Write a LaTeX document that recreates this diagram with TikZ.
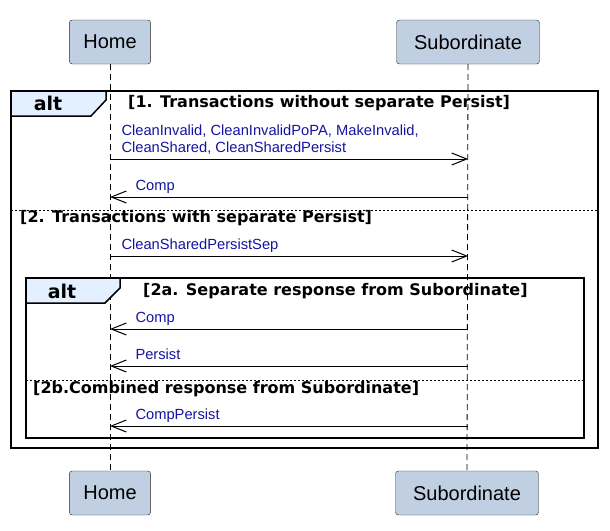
\documentclass[tikz,border=0pt]{standalone}
\usepackage{fontspec}
\setmainfont{Liberation Sans}
\newfontfamily\guardfont{DejaVu Sans}
\usetikzlibrary{arrows.meta}
\definecolor{PartFill}{HTML}{C0D0E2}
\definecolor{TabFill}{HTML}{E3F0FF}
\definecolor{MsgBlue}{HTML}{1414A0}
\newcommand{\drawpart}{\node[part]}
\newcommand{\drawguard}{\node[grd]}

\begin{document}
\begin{tikzpicture}[x=1pt, y=-1pt, >={Straight Barb[length=15pt,width=12pt]},
  part/.style={draw=black!85, fill=PartFill, rounded corners=3pt, minimum height=44pt, inner xsep=14pt, font=\fontsize{20}{24}\selectfont},
  life/.style={dash pattern=on 6pt off 4pt, line width=0.8pt},
  frame/.style={draw, line width=1.5pt},
  tab/.style={draw, fill=TabFill, line width=1.5pt},
  sep/.style={dash pattern=on 2pt off 2pt, line width=1pt},
  msg/.style={->, line width=1pt},
  lbl/.style={text=MsgBlue, inner sep=0pt, anchor=base west, align=left, font=\fontsize{14.7}{17}\selectfont},
  grd/.style={inner sep=0pt, anchor=west, font=\guardfont\bfseries\fontsize{16}{19}\selectfont},
  alt/.style={inner sep=0pt, font=\guardfont\bfseries\fontsize{19}{22}\selectfont}]
\useasboundingbox (0,0) rectangle (610,530);
%participants and lifelines
\drawpart (home) at (110,42) {Home};
\drawpart[minimum width=143pt] (sub) at (468,42) {Subordinate};
\drawpart (homeB) at (110,493) {Home};
\drawpart[minimum width=143pt] (subB) at (467,493) {Subordinate};
\draw[life] (home.south) -- (homeB.north);
\draw[life] (sub.south) -- (subB.north);

%outer alt
\draw[frame] (11,91) rectangle (598,448);
\draw[tab] (11,91) -- (106,91) -- (106,100) -- (91,116) -- (11,116) -- cycle;
\node[alt] (alt1) at (48,103) {alt};
\drawguard (g1) at (128,103) {[1. Transactions without separate Persist]};
\draw[sep] (11,210) -- (598,210);
\drawguard (g2) at (20,218) {[2. Transactions with separate Persist]};

%inner alt
\draw[frame] (26,278) rectangle (584,438);
\draw[tab] (26,278) -- (120,278) -- (120,288) -- (105,303) -- (26,303) -- cycle;
\node[alt] (alt2) at (62,291) {alt};
\drawguard (g2a) at (143,291) {[2a. Separate response from Subordinate]};
\draw[sep] (26,380) -- (584,380);
\drawguard (g2b) at (33,389) {[2b.Combined response from Subordinate]};

%messages
\coordinate (m1) at (0,159);
\coordinate (m2) at (0,197);
\coordinate (m3) at (0,256);
\coordinate (m4) at (0,329);
\coordinate (m5) at (0,366);
\coordinate (m6) at (0,426);
\draw[msg] (home |- m1) -- (sub |- m1) node[lbl, pos=0, xshift=11pt, yshift=7pt] {CleanInvalid, CleanInvalidPoPA, MakeInvalid,\\CleanShared, CleanSharedPersist};
\draw[msg] (sub |- m2) -- (home |- m2) node[lbl, pos=1, xshift=25pt, yshift=7pt] {Comp};
\draw[msg] (home |- m3) -- (sub |- m3) node[lbl, pos=0, xshift=11pt, yshift=7pt] {CleanSharedPersistSep};
\draw[msg] (sub |- m4) -- (home |- m4) node[lbl, pos=1, xshift=25pt, yshift=7pt] {Comp};
\draw[msg] (sub |- m5) -- (home |- m5) node[lbl, pos=1, xshift=25pt, yshift=7pt] {Persist};
\draw[msg] (sub |- m6) -- (home |- m6) node[lbl, pos=1, xshift=25pt, yshift=7pt] {CompPersist};

\end{tikzpicture}
\end{document}
